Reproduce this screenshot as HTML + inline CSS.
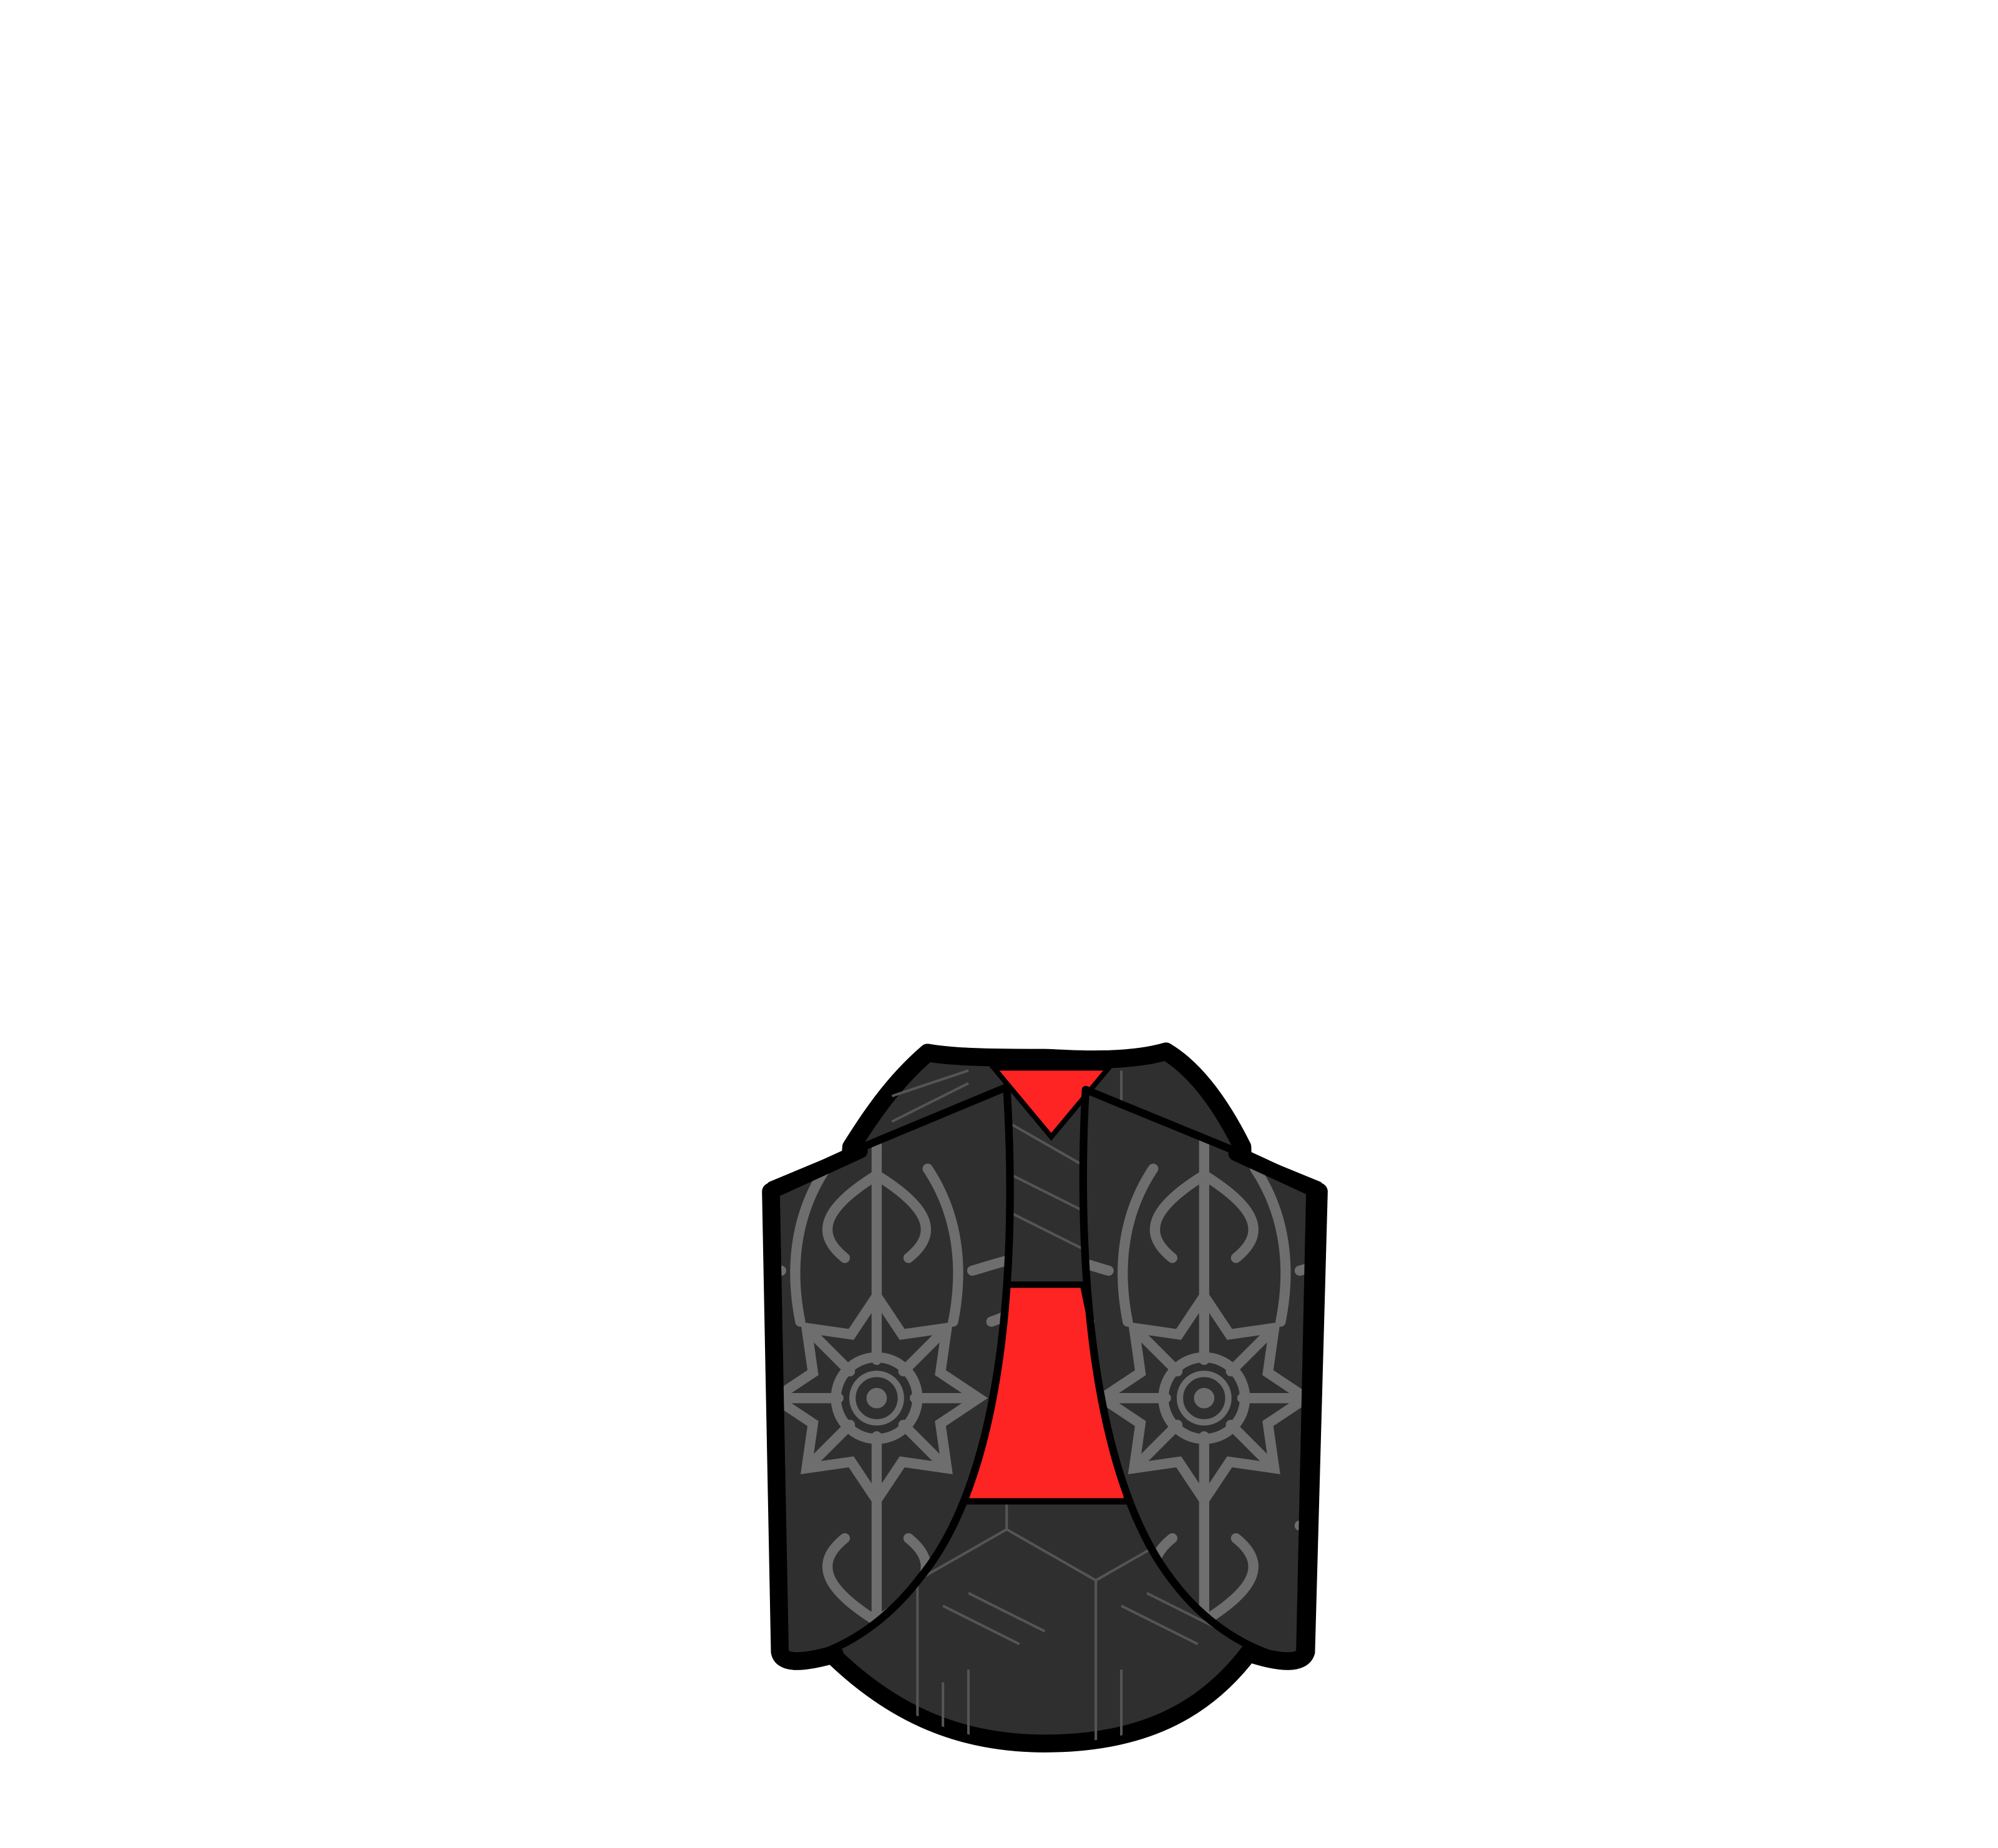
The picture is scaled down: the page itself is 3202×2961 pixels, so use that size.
<!DOCTYPE html>
<html><head><meta charset="utf-8"><style>html,body{margin:0;padding:0;background:#fff}svg{display:block}</style></head>
<body>
<svg width="3202" height="2961" viewBox="0 0 1568 1450" xmlns="http://www.w3.org/2000/svg">
<defs>
<clipPath id="cl"><path d="M605,930 L790,853 C797,960 795,1150 722,1238 C690,1280 650,1300 620,1303 L612,1296 Z"/></clipPath>
<clipPath id="cr"><path d="M1035,930 L852,855 C846,960 850,1150 920,1240 C950,1280 990,1300 1020,1303 L1028,935 Z"/></clipPath>
<clipPath id="cb"><path d="M728,826 C700,850 682,878 668,900 L640,1285 C700,1350 760,1368 820,1368 C900,1368 950,1340 985,1290 L975,900 C960,870 940,840 915,825 C880,835 830,830 820,830 C790,830 750,830 728,826 Z"/></clipPath>
<g id="flower" fill="none" stroke="#6e6e6e" stroke-width="8" stroke-linecap="round">
<circle cx="0" cy="0" r="32"/><circle cx="0" cy="0" r="19" stroke-width="5"/><circle cx="0" cy="0" r="4" fill="#6e6e6e"/>
<path d="M0,-30 L0,-80 M0,30 L0,80 M-30,0 L-80,0 M30,0 L80,0 M-21,-21 L-55,-55 M21,21 L55,55 M-21,21 L-55,55 M21,-21 L55,-55"/>
<path d="M0,-80 L20,-50 L55,-55 L50,-20 L80,0 L50,20 L55,55 L20,50 L0,80 L-20,50 L-55,55 L-50,20 L-80,0 L-50,-20 L-55,-55 L-20,-50 Z"/>
<path d="M0,-80 L0,-210 M0,80 L0,190 M-25,-110 C-50,-130 -40,-150 0,-175 C40,-150 50,-130 25,-110 M-25,110 C-50,130 -40,150 0,175 C40,150 50,130 25,110"/>
<path d="M-40,-180 C-60,-150 -70,-110 -60,-60 M40,-180 C60,-150 70,-110 60,-60 M-90,-60 C-120,-70 -140,-90 -150,-110 M90,-60 C120,-70 140,-90 150,-110 M-90,60 C-120,70 -140,90 -150,110 M90,60 C120,70 140,90 150,110"/>
<path d="M-75,-100 C-110,-110 -130,-120 -160,-100 M75,-100 C110,-110 130,-120 160,-100 M-75,100 C-110,110 -130,120 -160,100 M75,100 C110,110 130,120 160,100"/>
</g>
</defs>
<path d="M728,826 C700,850 682,878 668,900 L640,1285 C700,1350 760,1368 820,1368 C900,1368 950,1340 985,1290 L975,900 C960,870 940,840 915,825 C880,835 830,830 820,830 C790,830 750,830 728,826 Z" fill="#2f2f2f" stroke="#000" stroke-width="14" stroke-linejoin="round"/>
<g clip-path="url(#cb)" stroke="#555" stroke-width="2" fill="none">
<path d="M640,1200 L720,1240 L720,1370 M720,1240 L790,1200 L860,1240 L860,1370 M860,1240 L930,1200 L1000,1240 M790,1200 L790,1080 M930,1200 L930,1080 M740,1260 L800,1290 M760,1250 L820,1280 M880,1260 L940,1290 M900,1250 L960,1280 M740,1320 L740,1370 M760,1310 L760,1370 M880,1310 L880,1370 M790,880 L860,920 M790,920 L850,950 M790,950 L850,980 M860,860 L860,1000 M880,840 L880,1000 M700,860 L760,840 M700,880 L760,850"/>
</g>
<path d="M780,838 L870,838 L825,892 Z" fill="#ff2424" stroke="#000" stroke-width="4"/>
<path d="M790,1008 L850,1008 L885,1178 L755,1178 Z" fill="#ff2424" stroke="#000" stroke-width="5"/>
<path d="M605,930 L790,853 C797,960 795,1150 722,1238 C690,1280 650,1300 620,1303 L612,1296 Z" fill="#2f2f2f"/>
<g clip-path="url(#cl)"><use href="#flower" x="688" y="1097"/></g>
<path d="M605,930 L790,853 C797,960 795,1150 722,1238 C690,1280 650,1300 620,1303 L612,1296 Z" fill="none" stroke="#000" stroke-width="6" stroke-linejoin="round"/>
<path d="M605,935 L612,1296 C614,1306 630,1305 655,1298" fill="none" stroke="#000" stroke-width="14" stroke-linecap="round"/>
<path d="M1035,930 L852,855 C846,960 850,1150 920,1240 C950,1280 990,1300 1020,1303 L1028,935 Z" fill="#2f2f2f"/>
<g clip-path="url(#cr)"><use href="#flower" x="945" y="1097"/></g>
<path d="M1035,930 L852,855 C846,960 850,1150 920,1240 C950,1280 990,1300 1020,1303 L1028,935 Z" fill="none" stroke="#000" stroke-width="6" stroke-linejoin="round"/>
<path d="M1035,935 L1025,1296 C1022,1306 1005,1305 983,1298" fill="none" stroke="#000" stroke-width="14" stroke-linecap="round"/>
<path d="M605,935 L675,903 M1035,935 L970,905" stroke="#000" stroke-width="12" stroke-linecap="round"/>
</svg>
</body></html>
